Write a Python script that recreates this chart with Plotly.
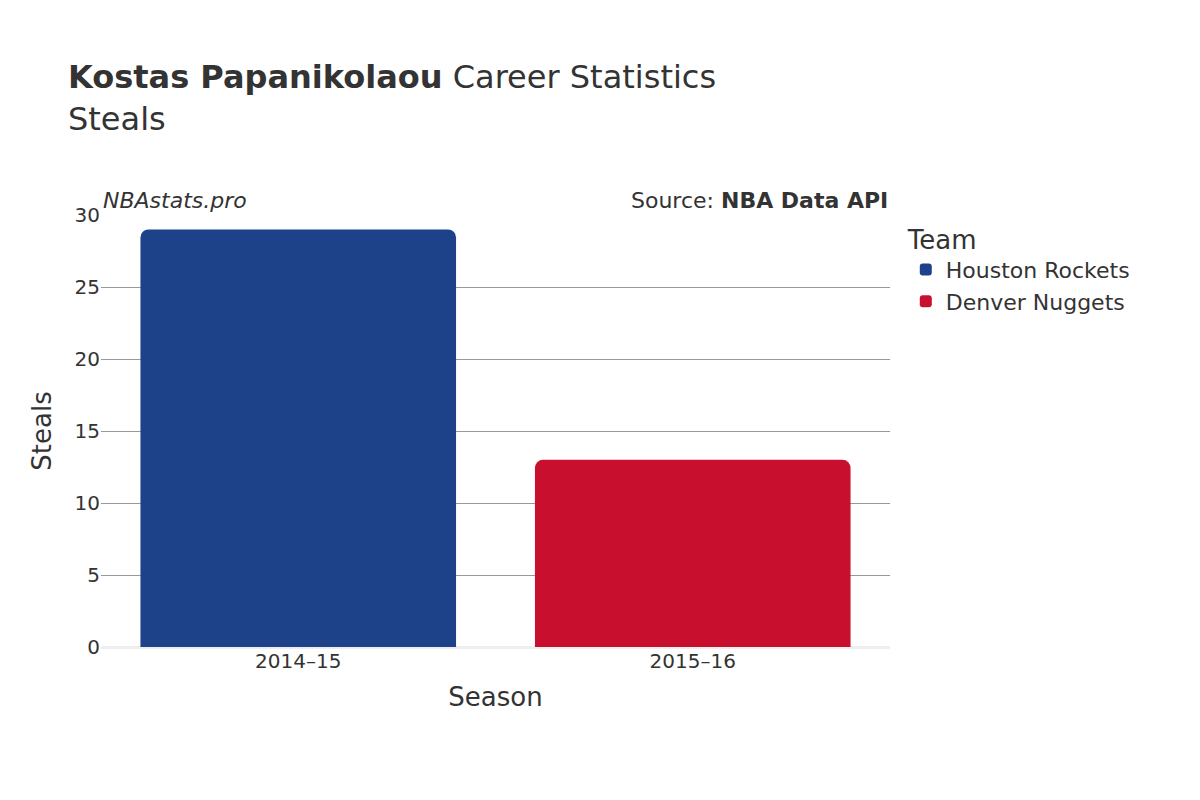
import plotly.graph_objects as go

seasons = ["2014–15", "2015–16"]
teams = ["Houston Rockets", "Denver Nuggets"]
steals = [29, 13]
colors = ["#1D428A", "#C8102E"]

fig = go.Figure()
for s, t, v, c in zip(seasons, teams, steals, colors):
    fig.add_trace(go.Bar(x=[s], y=[v], name=t, marker_color=c, marker_line_width=0))

fig.update_layout(
    width=1200, height=800,
    font=dict(family="DejaVu Sans", color="#333333", size=20),
    title=dict(text="<b>Kostas Papanikolaou</b> Career Statistics<br>Steals",
               x=0.05, xanchor="left", y=0.9, yanchor="middle", font=dict(size=32)),
    margin=dict(l=93, r=318, t=207, b=161),
    plot_bgcolor="white", paper_bgcolor="white",
    barmode="relative", barcornerradius=8, bargap=0.2,
    legend=dict(title=dict(text="Team", font=dict(size=26)), x=1.02, y=1, yanchor="top",
                font=dict(size=22)),
    xaxis=dict(title=dict(text="Season", font=dict(size=26)), categoryorder="array",
               categoryarray=seasons),
    yaxis=dict(title=dict(text="Steals", font=dict(size=26)), range=[0, 30], dtick=5,
               gridcolor="#999999", zeroline=True, zerolinecolor="#eeeeee", zerolinewidth=3),
    annotations=[
        dict(text="<i>NBAstats.pro</i>", xref="paper", yref="paper", x=0, y=1,
             xanchor="left", yanchor="bottom", showarrow=False, font=dict(size=22)),
        dict(text="Source: <b>NBA Data API</b>", xref="paper", yref="paper", x=1, y=1,
             xanchor="right", yanchor="bottom", showarrow=False, font=dict(size=22)),
    ],
)
fig.write_html("out.html")
